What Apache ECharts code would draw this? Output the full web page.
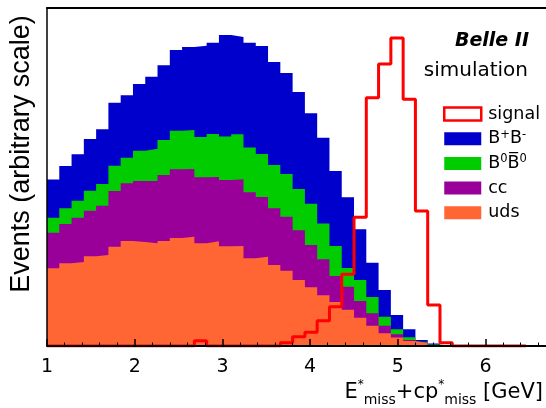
<!DOCTYPE html>
<html>
<head>
<meta charset="utf-8">
<title>Belle II simulation</title>
<script src="https://cdn.jsdelivr.net/npm/echarts@6/dist/echarts.min.js"></script>
<style>
  html, body { margin: 0; padding: 0; background: #fff; }
  #chart { width: 546px; height: 408px; }
</style>
</head>
<body>
<div id="chart"></div>
<script>
// histogram binning (GeV)
const binStart = 1.0
const binWidth = 0.14

// stacked backgrounds, arbitrary scale, bottom to top
const uds = [77.7, 82.7, 84.0, 89.7, 91.0, 99.3, 105.0, 104.0, 102.7, 105.0, 108.0, 109.3, 102.7, 104.7, 99.8, 100.0, 87.7, 89.3, 81.0, 75.3, 66.0, 58.7, 50.7, 44.0, 36.3, 28.3, 20.3, 12.7, 8.5, 5.0, 3.0, 0.7, 0, 0, 0, 0, 0, 0, 0]
const ccbar = [35.6, 39.3, 44.3, 45.6, 49.3, 55.7, 57.7, 61.0, 62.3, 66.0, 68.7, 67.7, 66.0, 64.3, 66.2, 66.7, 66.0, 59.7, 56.7, 54.0, 49.7, 42.3, 36.0, 26.0, 23.0, 16.7, 12.4, 7.6, 3.2, 1.0, 0.5, 0.3, 0, 0, 0, 0, 0, 0, 0]
const b0b0 = [15.0, 15.7, 17.0, 20.0, 21.7, 25.3, 25.6, 30.3, 32.3, 35.0, 38.6, 39.0, 40.3, 43.0, 43.5, 45.1, 44.8, 43.0, 43.3, 42.7, 41.3, 41.3, 35.8, 30.0, 18.7, 21.0, 16.3, 9.0, 5.1, 2.7, 0.8, 0.5, 0, 0, 0, 0, 0, 0, 0]
const bpbm = [38.2, 42.3, 46.4, 51.7, 54.7, 63.0, 62.4, 66.7, 72.0, 74.7, 80.7, 83.0, 91.3, 91.3, 101.5, 97.2, 104.8, 108.0, 103.0, 101.0, 97.0, 90.4, 85.8, 75.0, 70.7, 50.7, 34.3, 26.7, 14.2, 8.0, 1.7, 1.0, 0, 0, 0, 0, 0, 0, 0]

// signal, drawn as outline
const signal = [0, 0, 0, 0, 0, 0, 0, 0, 0, 0, 0, 0, 5.3, 0, 0, 0, 0, 0, 0, 3.3, 9.3, 13.7, 25.3, 39.3, 71.7, 128.7, 248.3, 282.0, 308.0, 246.7, 135.0, 41.0, 3.3, 0, 0, 0, 0, 0, 0]

const xTicks = [1, 2, 3, 4, 5, 6]

const layers = [
  { name: 'uds', values: uds, color: '#ff6633' },
  { name: 'cc', values: ccbar, color: '#990099' },
  { name: 'B0B0', values: b0b0, color: '#00cc00' },
  { name: 'BpBm', values: bpbm, color: '#0000cc' }
]

const legendLabels = {
  signal: 'signal',
  BpBm: 'B{sup|+}B{sup|-}',
  B0B0: 'B{sup|0}B\u0305{sup|0}',
  cc: 'cc',
  uds: 'uds'
}

// points at bin low edges plus the closing edge, for step drawing
const toSteps = values => {
  const pts = values.map((v, i) => [binStart + i * binWidth, v])
  pts.push([binStart + values.length * binWidth, values[values.length - 1]])
  return pts
}

// running sums, each layer filled down to zero and painted from the top layer down
let running = uds.map(() => 0)
const stackSeries = layers.map(layer => {
  running = running.map((r, i) => r + layer.values[i])
  return {
    type: 'line',
    name: layer.name,
    step: 'end',
    symbol: 'none',
    showSymbol: false,
    data: toSteps(running),
    itemStyle: { color: layer.color },
    lineStyle: { color: layer.color, width: 0 },
    areaStyle: { color: layer.color, opacity: 1 },
    z: 2
  }
}).reverse()

const font = 'DejaVu Sans'

const option = {
  animation: false,
  backgroundColor: '#fff',
  grid: { left: 47, right: -1, top: 8, bottom: 62, containLabel: false, outerBoundsMode: 'none' },
  xAxis: [
    {
      type: 'value',
      min: 1,
      max: 6.7,
      interval: 1,
      position: 'bottom',
      z: 5,
      axisLine: { show: true, onZero: false, lineStyle: { color: '#000', width: 2 } },
      axisTick: { show: true, inside: true, length: 7, lineStyle: { color: '#000', width: 1.5 } },
      minorTick: { show: true, splitNumber: 5, length: 3.5, lineStyle: { color: '#000', width: 1 } },
      axisLabel: {
        color: '#000',
        fontFamily: font,
        fontSize: 19,
        margin: 12,
        showMaxLabel: false,
        formatter: v => (xTicks.includes(v) ? String(v) : '')
      },
      splitLine: { show: false },
      minorSplitLine: { show: false }
    },
    {
      type: 'value',
      min: 1,
      max: 6.7,
      position: 'top',
      z: 5,
      axisLine: { show: true, onZero: false, lineStyle: { color: '#000', width: 2 } },
      axisTick: { show: false },
      axisLabel: { show: false },
      splitLine: { show: false }
    }
  ],
  yAxis: {
    type: 'value',
    min: 0,
    max: 338,
    z: 5,
    axisLine: { show: true, lineStyle: { color: '#000', width: 1.5 } },
    axisTick: { show: false },
    axisLabel: { show: false },
    splitLine: { show: false }
  },
  legend: {
    orient: 'vertical',
    left: 438,
    top: 99,
    itemWidth: 37,
    itemHeight: 13,
    itemGap: 4.7,
    icon: 'rect',
    selectedMode: false,
    data: [
      { name: 'signal', icon: 'rect', itemStyle: { color: '#fff', borderColor: '#ff0000', borderWidth: 2.5 } },
      { name: 'BpBm' },
      { name: 'B0B0' },
      { name: 'cc' },
      { name: 'uds' }
    ],
    formatter: name => legendLabels[name],
    textStyle: {
      color: '#000',
      fontFamily: font,
      fontSize: 17.5,
      lineHeight: 20,
      padding: [0, 0, 0, 2],
      rich: {
        sup: { fontFamily: font, fontSize: 11.5, lineHeight: 8, verticalAlign: 'top', color: '#000' }
      }
    }
  },
  graphic: [
    {
      type: 'text',
      x: 529,
      y: 41,
      style: {
        text: 'Belle II',
        fontFamily: font,
        fontSize: 19,
        fontWeight: 'bold',
        fontStyle: 'italic',
        fill: '#000',
        align: 'right',
        verticalAlign: 'middle'
      }
    },
    {
      type: 'text',
      x: 528,
      y: 70.5,
      style: {
        text: 'simulation',
        fontFamily: font,
        fontSize: 20,
        fill: '#000',
        align: 'right',
        verticalAlign: 'middle'
      }
    },
    {
      type: 'text',
      x: 543,
      y: 393,
      style: {
        text: 'E{sup|*}{sub|miss}+cp{sup|*}{sub|miss} [GeV]',
        fontFamily: font,
        fontSize: 21,
        lineHeight: 28,
        fill: '#000',
        align: 'right',
        verticalAlign: 'middle',
        rich: {
          sup: { fontFamily: font, fontSize: 12, lineHeight: 10, verticalAlign: 'top', fill: '#000' },
          sub: { fontFamily: font, fontSize: 14, lineHeight: 10, verticalAlign: 'bottom', fill: '#000' }
        }
      }
    },
    {
      type: 'text',
      x: 22,
      y: 154,
      rotation: Math.PI / 2,
      style: {
        text: 'Events (arbitrary scale)',
        fontFamily: 'Liberation Sans',
        fontSize: 27,
        fill: '#000',
        align: 'center',
        verticalAlign: 'middle'
      }
    }
  ],
  series: [
    ...stackSeries,
    {
      type: 'line',
      name: 'signal',
      data: toSteps(signal),
      step: 'end',
      showSymbol: false,
      symbol: 'none',
      itemStyle: { color: '#ff0000' },
      lineStyle: { color: '#ff0000', width: 3 },
      z: 3
    }
  ]
}

const chart = echarts.init(document.getElementById('chart'), null, { renderer: 'canvas' })
chart.setOption(option)
</script>
</body>
</html>
